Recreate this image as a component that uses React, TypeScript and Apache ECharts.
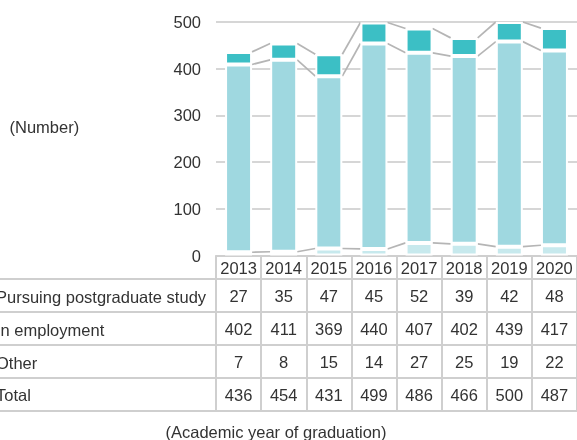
import React, { useEffect, useRef } from "react";
import * as echarts from "echarts";

const years = ["2013", "2014", "2015", "2016", "2017", "2018", "2019", "2020"];
const postgraduate = [27, 35, 47, 45, 52, 39, 42, 48];
const employment = [402, 411, 369, 440, 407, 402, 439, 417];
const other = [7, 8, 15, 14, 27, 25, 19, 22];
const totals = [436, 454, 431, 499, 486, 466, 500, 487];
const rowLabels = ["Pursuing postgraduate study", "In employment", "Other", "Total"];
const yTicks = [0, 100, 200, 300, 400, 500];

const FONT = "Liberation Sans, Arial, Helvetica, sans-serif";
const TEXT = "#333333";
const LINE = "#cfcfcf";
const BAR_W = 27;

export default function App() {
  const ref = useRef<HTMLDivElement>(null);
  useEffect(() => {
    document.body.style.margin = "0";
    const chart = echarts.init(ref.current!, undefined, { renderer: "svg" });

    const lvlOther = other;
    const lvlEmp = other.map((v, i) => v + employment[i]);
    const lvlTotal = totals;
    const links = (arr: number[]) =>
      arr.slice(0, -1).map((v, i) => [i, v, arr[i + 1]]);

    const linkSeries = (arr: number[]) => ({
      type: "custom",
      z: 1,
      silent: true,
      renderItem: (_p: any, api: any) => {
        const i = api.value(0);
        const p1 = api.coord([i, api.value(1)]);
        const p2 = api.coord([i + 1, api.value(2)]);
        return {
          type: "line",
          shape: { x1: p1[0] + BAR_W / 2, y1: p1[1], x2: p2[0] - BAR_W / 2, y2: p2[1] },
          style: { stroke: "#b5b5b5", lineWidth: 1.7 },
        };
      },
      encode: { x: 0, y: 1 },
      data: links(arr),
    });

    const rowYs = [296.5, 329.5, 362.5, 395];
    const hLines = [279, 312, 345, 378, 411];

    chart.setOption({
      animation: false,
      textStyle: { fontFamily: FONT },
      grid: { left: 216, top: 22, width: 363, height: 233.5, containLabel: false },
      xAxis: {
        type: "category",
        data: years,
        axisLine: { lineStyle: { color: LINE, width: 2 } },
        axisTick: { show: true, length: 155, interval: 0, lineStyle: { color: LINE, width: 2 } },
        axisLabel: {
          interval: 0,
          margin: 0,
          color: TEXT,
          formatter: (_v: string, idx: number) =>
            `{y|${years[idx]}}\n{v|${postgraduate[idx]}}\n{v|${employment[idx]}}\n{v|${other[idx]}}\n{v|${totals[idx]}}`,
          rich: {
            y: { fontSize: 16.5, lineHeight: 24, color: TEXT, fontFamily: FONT },
            v: { fontSize: 16.5, lineHeight: 33, color: TEXT, fontFamily: FONT },
          },
        },
      },
      yAxis: {
        type: "value",
        min: 0,
        max: 500,
        interval: 100,
        axisLine: { show: false },
        axisTick: { show: false },
        axisLabel: { fontSize: 16.5, color: TEXT, margin: 15, fontFamily: FONT },
        splitLine: { lineStyle: { color: "#c8c8c8", width: 1.5 } },
      },
      series: [
        {
          name: "Other",
          type: "bar",
          stack: "a",
          barWidth: BAR_W,
          z: 2,
          itemStyle: { color: "#c7e9ed", borderColor: "#ffffff", borderWidth: 2 },
          data: other,
        },
        {
          name: "In employment",
          type: "bar",
          stack: "a",
          barWidth: BAR_W,
          z: 2,
          itemStyle: { color: "#9fd8e0", borderColor: "#ffffff", borderWidth: 2 },
          data: employment,
        },
        {
          name: "Pursuing postgraduate study",
          type: "bar",
          stack: "a",
          barWidth: BAR_W,
          z: 2,
          itemStyle: { color: "#3cbfc5", borderColor: "#ffffff", borderWidth: 2 },
          data: postgraduate,
        },
        linkSeries(lvlOther),
        linkSeries(lvlEmp),
        linkSeries(lvlTotal),
      ],
      graphic: [
        ...hLines.map((y) => ({
          type: "line",
          shape: { x1: 0, y1: y, x2: 577, y2: y },
          style: { stroke: LINE, lineWidth: 2 },
          silent: true,
        })),
        ...rowLabels.map((t, i) => ({
          type: "text",
          x: -4,
          y: rowYs[i],
          style: { text: t, fill: TEXT, font: `16.5px ${FONT}`, verticalAlign: "middle" },
        })),
        {
          type: "text",
          x: 9.5,
          y: 127,
          style: { text: "(Number)", fill: TEXT, font: `16.5px ${FONT}`, verticalAlign: "middle" },
        },
        {
          type: "text",
          x: 276,
          y: 432,
          style: {
            text: "(Academic year of graduation)",
            fill: TEXT,
            font: `16.5px ${FONT}`,
            align: "center",
            verticalAlign: "middle",
          },
        },
      ],
    });
    return () => chart.dispose();
  }, []);
  return <div ref={ref} style={{ position: "fixed", left: 0, top: 0, width: 577, height: 440 }} />;
}
